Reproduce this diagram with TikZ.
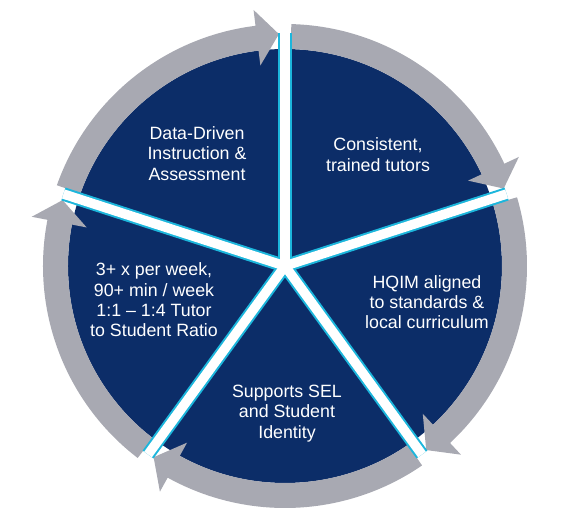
\documentclass[tikz,border=0pt]{standalone}
\usepackage{fontspec}
\setmainfont{Liberation Sans}
\definecolor{navy}{RGB}{12,45,104}
\definecolor{ringgray}{RGB}{168,169,178}
\definecolor{edgecyan}{RGB}{28,182,220}
\tikzset{
  label/.style={text=white,align=center,font=\fontsize{17.8}{20.3}\selectfont},
  cyanline/.style={draw=edgecyan,line width=13.5pt},
  whiteline/.style={draw=white,line width=9.5pt},
  arrowseg/.style={fill=ringgray,draw=none}
}
\begin{document}
\begin{tikzpicture}[x=1pt,y=1pt]
\useasboundingbox (-285,-256) rectangle (277,266);
\coordinate (c) at (0,0);
% disc
\fill[navy] (c) circle[radius=217];
% arrow segments
\foreach \a in {90,18,-54,-126,162}{
  \pgfmathsetmacro{\s}{\a+72-1.5}
  \pgfmathsetmacro{\b}{\a+7}
  \pgfmathsetmacro{\t}{\a+1.5}
  \path[arrowseg] (\s:217) arc[start angle=\s,end angle=\b,radius=217]
    -- (\b:202) -- (\t:232) -- (\b:258) -- (\b:242)
    arc[start angle=\b,end angle=\s,radius=242] -- cycle;
}
% dividers
\foreach \a in {90,18,-54,-126,162}{
  \coordinate (e\a) at (\a:233);
  \draw[cyanline] (c) -- (e\a);
}
\foreach \a in {90,18,-54,-126,162}{
  \draw[whiteline] (c) -- (e\a);
}
% labels
\node[label] (dd) at (-88,112.5) {Data-Driven\\Instruction \&\\Assessment};
\node[label] (ct) at (93,111.5) {Consistent,\\trained tutors};
\node[label] (hq) at (142,-36) {HQIM aligned\\to standards \&\\local curriculum};
\node[label] (fr) at (-131,-34) {3+ x per week,\\90+ min / week\\1:1 -- 1:4 Tutor\\to Student Ratio};
\node[label] (se) at (2,-147.5) {Supports SEL\\and Student\\Identity};
\end{tikzpicture}
\end{document}
